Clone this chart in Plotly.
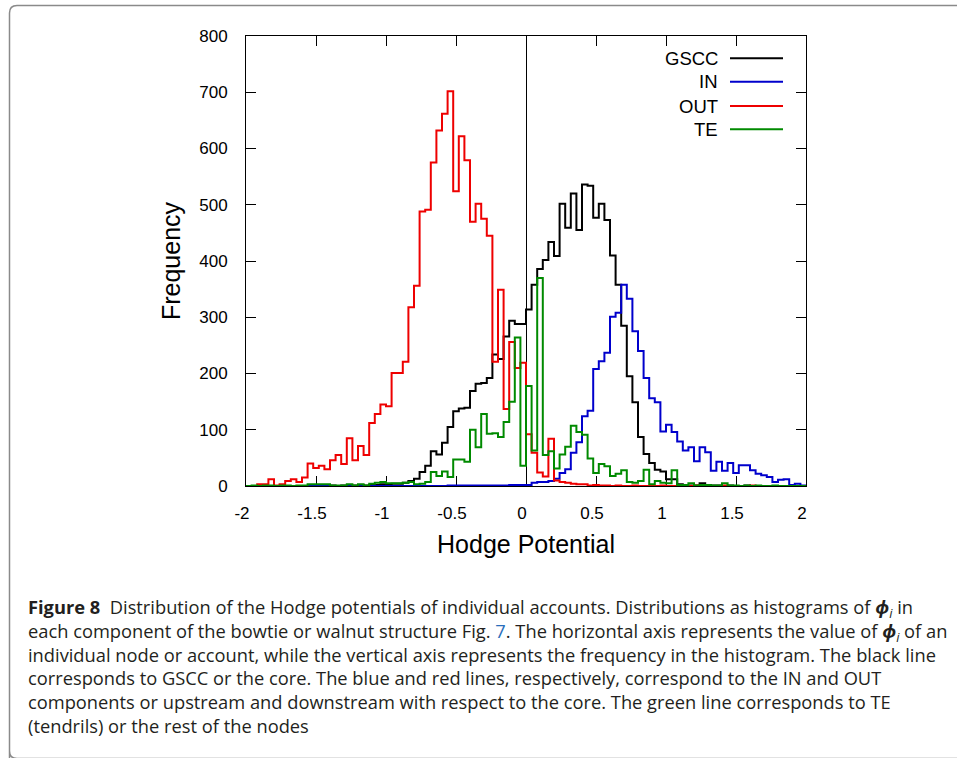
import numpy as np
import plotly.graph_objects as go

# Histogram bins: 100 bins of width 0.04 covering [-2, 2]
bin_width = 0.04
bin_left = np.round(np.linspace(-2.0, 2.0 - bin_width, 100), 2)

# Bin counts per bowtie component (one value per bin, left to right)
gscc = [0, 0, 0, 0, 0, 0, 0, 0, 0, 0,
        0, 0, 0, 0, 0, 1, 0, 1, 1, 1,
        2, 1, 2, 2, 3, 3, 4, 4, 6, 9,
        13, 25, 36, 62, 56, 77, 105, 133, 138, 139,
        169, 182, 183, 192, 234, 226, 266, 294, 288, 288,
        314, 358, 386, 402, 434, 409, 502, 459, 520, 455,
        536, 534, 477, 502, 473, 410, 358, 285, 195, 149,
        87, 57, 41, 29, 26, 12, 12, 3, 1, 1,
        1, 5, 2, 1, 1, 0, 1, 0, 0, 1,
        0, 0, 0, 0, 0, 0, 0, 0, 0, 0]

in_comp = [0, 0, 0, 0, 0, 0, 0, 0, 0, 0,
           0, 0, 0, 0, 0, 0, 0, 0, 0, 0,
           0, 0, 0, 0, 0, 0, 0, 0, 0, 0,
           0, 0, 0, 0, 0, 0, 1, 1, 1, 1,
           1, 1, 1, 1, 1, 1, 1, 2, 2, 2,
           2, 6, 7, 7, 9, 13, 23, 30, 59, 78,
           124, 134, 208, 222, 237, 301, 308, 358, 333, 275,
           240, 192, 156, 149, 97, 109, 96, 79, 63, 69,
           44, 69, 60, 27, 43, 27, 41, 23, 37, 37,
           28, 22, 19, 16, 7, 11, 12, 2, 4, 1]

out_comp = [0, 0, 3, 3, 12, 1, 3, 9, 12, 7,
            15, 40, 32, 36, 30, 46, 55, 39, 85, 46,
            71, 55, 112, 128, 145, 142, 201, 201, 221, 318,
            356, 488, 491, 575, 632, 662, 702, 524, 622, 579,
            470, 502, 475, 445, 221, 349, 137, 256, 210, 219,
            92, 59, 24, 17, 84, 10, 7, 6, 4, 3,
            3, 1, 2, 1, 1, 0, 1, 0, 0, 1,
            0, 0, 0, 0, 1, 0, 0, 0, 0, 0,
            1, 0, 0, 0, 0, 1, 0, 0, 0, 0,
            1, 0, 0, 0, 0, 0, 0, 0, 0, 0]

te = [0, 1, 0, 1, 1, 0, 1, 1, 0, 1,
      1, 3, 3, 3, 3, 1, 1, 1, 3, 1,
      3, 1, 4, 6, 7, 5, 5, 5, 6, 7,
      3, 4, 7, 25, 18, 26, 16, 47, 47, 43,
      100, 69, 128, 93, 94, 87, 114, 150, 264, 36,
      178, 63, 370, 55, 62, 31, 56, 70, 107, 96,
      91, 49, 23, 39, 35, 18, 22, 28, 7, 6,
      9, 29, 3, 9, 6, 5, 28, 2, 2, 5,
      1, 2, 2, 1, 1, 5, 1, 1, 0, 1,
      0, 1, 0, 0, 1, 0, 0, 0, 0, 0]

series_names = ["GSCC", "IN", "OUT", "TE"]
series_counts = [gscc, in_comp, out_comp, te]
series_colors = ["#000000", "#0000cc", "#ee0000", "#008a00"]

x_tick_vals = [-2, -1.5, -1, -0.5, 0, 0.5, 1, 1.5, 2]
x_tick_text = ["-2", "-1.5", "-1", "-0.5", "0", "0.5", "1", "1.5", "2"]
y_tick_vals = [0, 100, 200, 300, 400, 500, 600, 700, 800]

W, H = 957, 758
L, R, T, B = 246, 151, 36, 272
PW, PH = W - L - R, H - T - B


def px(xp):
    return (xp - L) / PW


def py(yp):
    return (H - B - yp) / PH


edges = list(bin_left) + [round(bin_left[-1] + bin_width, 2)]

fig = go.Figure()
for name, counts, color in zip(series_names, series_counts, series_colors):
    fig.add_trace(go.Scatter(
        x=edges, y=list(counts) + [counts[-1]],
        mode="lines", line=dict(color=color, width=2, shape="hv"),
        name=name, showlegend=False,
    ))

tick_font = dict(family="Liberation Sans, Arial, sans-serif", size=17, color="black")
title_font = dict(family="Liberation Sans, Arial, sans-serif", size=25, color="black")

fig.update_xaxes(
    range=[-2, 2], tickvals=x_tick_vals, ticktext=x_tick_text,
    ticks="inside", ticklen=10, tickwidth=1, tickcolor="black",
    showline=True, linecolor="black", linewidth=1, mirror="ticks",
    showgrid=False, zeroline=True, zerolinecolor="black", zerolinewidth=1,
    tickfont=tick_font, ticklabelstandoff=12, ticklabelshift=-4,
    title=dict(text="Hodge Potential", font=title_font, standoff=13),
    layer="below traces",
)
fig.update_yaxes(
    range=[0, 800], tickvals=y_tick_vals,
    ticks="inside", ticklen=10, tickwidth=1, tickcolor="black",
    showline=True, linecolor="black", linewidth=1, mirror="ticks",
    showgrid=False, zeroline=False,
    tickfont=tick_font, ticklabelstandoff=14,
    title=dict(text="Frequency", font=title_font, standoff=11),
    layer="below traces",
)

# Legend: label on the left, line sample on the right
legend_rows_y = [58.3, 81.7, 106.0, 129.3]
shapes = []
annotations = []
for name, color, yrow in zip(series_names, series_colors, legend_rows_y):
    annotations.append(dict(
        text=name, xref="paper", yref="paper", x=px(720), y=py(yrow),
        xanchor="right", yanchor="middle", showarrow=False,
        font=dict(family="Liberation Sans, Arial, sans-serif", size=18.5, color="black"),
    ))
    shapes.append(dict(
        type="line", xref="paper", yref="paper",
        x0=px(730), x1=px(783), y0=py(yrow), y1=py(yrow),
        line=dict(color=color, width=2),
    ))

# Figure panel frame with rounded left corners
frame_path = (
    f"M {px(9.5)},{py(H + 10)} "
    f"L {px(9.5)},{py(751)} Q {px(9.5)},{py(758.5)} {px(17)},{py(758.5)} "
    f"L {px(W + 5)},{py(758.5)} "
    f"M {px(9.5)},{py(751)} L {px(9.5)},{py(13)} "
    f"Q {px(9.5)},{py(5.5)} {px(17)},{py(5.5)} L {px(W + 5)},{py(5.5)}"
)
shapes.append(dict(type="path", xref="paper", yref="paper", path=frame_path,
                   line=dict(color="#8a8a8a", width=1.5), layer="below"))

phi = "<b><i>ϕ</i></b><sub><i>i</i></sub>"
caption_lines = [
    "<b>Figure 8</b>\u00a0\u00a0Distribution of the Hodge potentials of individual accounts. "
    f"Distributions as histograms of {phi} in",
    "each component of the bowtie or walnut structure Fig. "
    "<span style='color:#2a6ebb'>7</span>. The horizontal axis represents the value of "
    f"{phi} of an",
    "individual node or account, while the vertical axis represents the frequency in the "
    "histogram. The black line",
    "corresponds to GSCC or the core. The blue and red lines, respectively, correspond to "
    "the IN and OUT",
    "components or upstream and downstream with respect to the core. The green line "
    "corresponds to TE",
    "(tendrils) or the rest of the nodes",
]
annotations.append(dict(
    text="<br>".join(caption_lines), xref="paper", yref="paper",
    x=px(26), y=py(592), xanchor="left", yanchor="top", align="left",
    showarrow=False,
    font=dict(family="Open Sans, Noto Sans, sans-serif", size=18.3, color="#231f20"),
))

fig.update_layout(
    width=W, height=H,
    margin=dict(l=L, r=R, t=T, b=B, pad=0),
    paper_bgcolor="white", plot_bgcolor="white",
    shapes=shapes, annotations=annotations,
    showlegend=False,
)

fig.write_html("out.html")
